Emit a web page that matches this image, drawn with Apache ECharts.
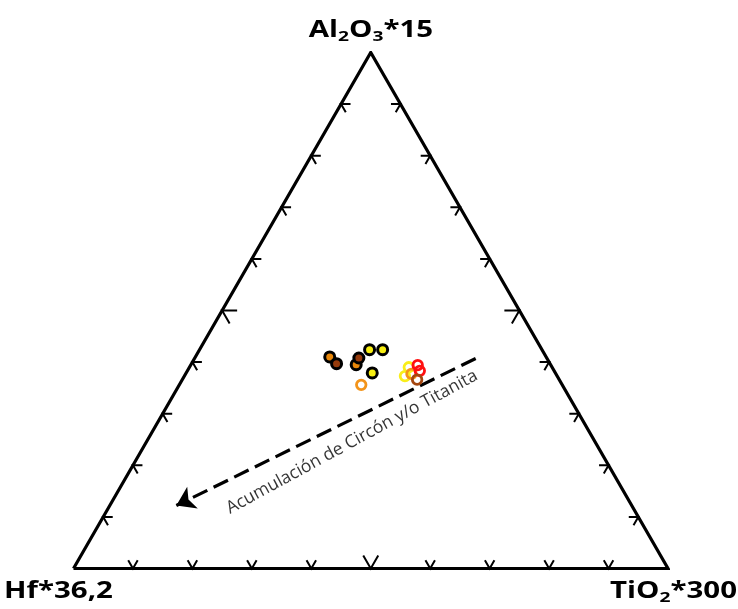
<!DOCTYPE html>
<html>
<head>
<meta charset="utf-8">
<script src="https://cdn.jsdelivr.net/npm/echarts@6/dist/echarts.min.js"></script>
<style>
  html, body { margin: 0; padding: 0; background: #fff; }
  #chart { width: 738px; height: 609px; }
</style>
</head>
<body>
<div id="chart"></div>
<script>
// Ternary compositions as [Al2O3*15, Hf*36.2, TiO2*300] fractions
const filledOrange = [[0.410, 0.364, 0.226], [0.395, 0.327, 0.278]];
const filledBrown  = [[0.397, 0.359, 0.244], [0.408, 0.316, 0.276]];
const filledYellow = [[0.424, 0.290, 0.286], [0.424, 0.268, 0.308], [0.379, 0.308, 0.313]];
const ringOrange   = [[0.356, 0.338, 0.306], [0.377, 0.243, 0.380]];
const ringYellow   = [[0.373, 0.256, 0.371], [0.390, 0.241, 0.369]];
const ringRed      = [[0.394, 0.224, 0.382], [0.383, 0.226, 0.391]];
const ringBrown    = [[0.366, 0.239, 0.395]];

// Trend arrow (start -> end) and its caption anchor, same ternary order
const trendArrow = [[0.407, 0.120, 0.473], [0.122, 0.766, 0.112]];
const trendCaption = [0.245, 0.409, 0.346];
const trendText = 'Acumulación de Circón y/o Titanita';

// Tick fractions along each edge
const tickFractions = [0.1, 0.2, 0.3, 0.4, 0.5, 0.6, 0.7, 0.8, 0.9];

const H = Math.sqrt(3) / 2;
function toXY(t) {
  const s = t[0] + t[1] + t[2];
  const a = t[0] / s, ti = t[2] / s;
  return [ti + a / 2, a * H];
}

const vertices = [[0, 1, 0], [0, 0, 1], [1, 0, 0], [0, 1, 0]].map(toXY);

// edge 0: bottom (Hf-Ti), 1: left (Hf-Al), 2: right (Ti-Al)
const tickData = [];
[0, 1, 2].forEach(e => tickFractions.forEach(f => tickData.push([e, f])));

// chevron arm directions in screen space, opening toward the interior
const c = Math.sqrt(3) / 2;
const arms = [
  [[0.5, -c], [-0.5, -c]],
  [[1, 0], [0.5, c]],
  [[-1, 0], [-0.5, c]]
];

const font = '"Open Sans", "DejaVu Sans", sans-serif';
const big = { fontFamily: font, fontWeight: 'bold', fontSize: 23, lineHeight: 27, fill: '#000',
              textStroke: '#000', textStrokeWidth: 0.6 };
const sub = { fontFamily: font, fontWeight: 'bold', fontSize: 15, lineHeight: 23, verticalAlign: 'bottom', fill: '#000',
              textStroke: '#000', textStrokeWidth: 0.5 };
const stretch = 1.28;

function filled(data, color) {
  return {
    type: 'scatter', data: data.map(toXY), symbol: 'circle', symbolSize: 10,
    itemStyle: { color: color, borderColor: '#000', borderWidth: 3, opacity: 1 },
    silent: true, z: 5
  };
}
function ring(data, color) {
  return {
    type: 'scatter', data: data.map(toXY), symbol: 'circle', symbolSize: 9.5,
    itemStyle: { color: 'rgba(0,0,0,0)', borderColor: color, borderWidth: 2.8, opacity: 1 },
    silent: true, z: 5
  };
}

const chart = echarts.init(document.getElementById('chart'), null, { renderer: 'canvas' });
chart.setOption({
  animation: false,
  backgroundColor: '#fff',
  grid: { left: 73.5, top: 52.5, width: 594.5, height: 516 },
  xAxis: { type: 'value', min: 0, max: 1, show: false },
  yAxis: { type: 'value', min: 0, max: H, show: false },
  graphic: [
    {
      type: 'text', x: 371, y: 17, scaleX: stretch,
      style: {
        text: '{b|Al}{s|2}{b|O}{s|3}{b|*15}', align: 'center', verticalAlign: 'top',
        rich: { b: big, s: sub }
      }
    },
    {
      type: 'text', x: 4, y: 578, scaleX: stretch,
      style: { text: '{b|Hf*36,2}', align: 'left', verticalAlign: 'top', rich: { b: big } }
    },
    {
      type: 'text', x: 737, y: 578, scaleX: stretch,
      style: {
        text: '{b|TiO}{s|2}{b|*300}', align: 'right', verticalAlign: 'top',
        rich: { b: big, s: sub }
      }
    }
  ],
  series: [
    {
      type: 'line', data: vertices, symbol: 'none', silent: true,
      lineStyle: { color: '#000', width: 3.2, join: 'miter', miterLimit: 10 }, z: 3
    },
    {
      type: 'custom', data: tickData, silent: true, z: 4,
      renderItem: function (params, api) {
        const e = api.value(0), f = api.value(1);
        const t = e === 0 ? [0, 1 - f, f] : (e === 1 ? [f, 1 - f, 0] : [f, 0, 1 - f]);
        const p = api.coord(toXY(t));
        const L = Math.abs(f - 0.5) < 1e-6 ? 15 : 9.5;
        const d = arms[e];
        return {
          type: 'polyline',
          shape: { points: [[p[0] + d[0][0] * L, p[1] + d[0][1] * L], p, [p[0] + d[1][0] * L, p[1] + d[1][1] * L]] },
          style: { stroke: '#000', lineWidth: 2, fill: null }
        };
      }
    },
    {
      type: 'scatter', data: [], silent: true,
      markLine: {
        silent: true, animation: false,
        symbol: ['none', 'arrow'], symbolSize: 18,
        label: { show: false },
        lineStyle: { color: '#000', width: 3.2, type: [16, 7] },
        data: [[{ coord: toXY(trendArrow[0]) }, { coord: toXY(trendArrow[1]) }]]
      }
    },
    {
      type: 'scatter', data: [toXY(trendCaption)], symbolSize: 0, silent: true,
      label: {
        show: true, position: 'inside', rotate: 28.5, formatter: trendText,
        fontFamily: font, fontSize: 17.5, color: '#000'
      }
    },
    filled(filledOrange, '#e8870a'),
    filled(filledBrown, '#963b0c'),
    filled(filledYellow, '#f7ee12'),
    ring(ringYellow, '#f9ee1a'),
    ring(ringOrange, '#f3941a'),
    ring(ringRed, '#ff1010'),
    ring(ringBrown, '#a4460f')
  ]
});
</script>
</body>
</html>
